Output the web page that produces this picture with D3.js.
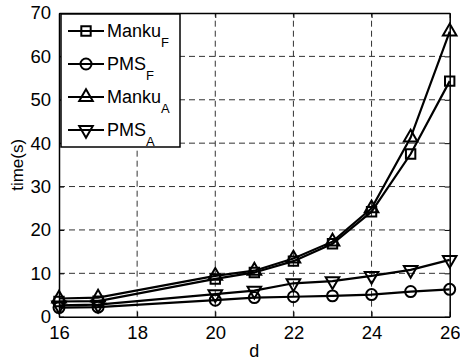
<!DOCTYPE html>
<html>
<head>
<meta charset="utf-8">
<script src="https://cdnjs.cloudflare.com/ajax/libs/d3/7.8.5/d3.min.js"></script>
<style>
  body { margin: 0; background: #fff; }
  text { font-family: "Liberation Sans", Arial, sans-serif; fill: #000; }
</style>
</head>
<body>
<script>
const width = 460, height = 364;
const margin = {top: 13, right: 10.3, bottom: 47.3, left: 59};

// data
const dValues = [16, 17, 20, 21, 22, 23, 24, 25, 26];
const mankuF = [3.5, 3.6, 8.7, 10.2, 12.8, 16.8, 24.2, 37.5, 54.3];
const pmsF   = [2.1, 2.2, 3.8, 4.4, 4.6, 4.8, 5.1, 5.8, 6.3];
const mankuA = [4.2, 4.4, 9.4, 10.6, 13.4, 17.3, 25.0, 41.3, 65.7];
const pmsA   = [2.6, 2.8, 5.2, 6.0, 7.7, 8.2, 9.4, 10.8, 13.1];

const xTicks = [16, 18, 20, 22, 24, 26];
const yTicks = [0, 10, 20, 30, 40, 50, 60, 70];

const series = [
  {name: "Manku", sub: "F", values: mankuF, marker: "square"},
  {name: "PMS", sub: "F", values: pmsF, marker: "circle"},
  {name: "Manku", sub: "A", values: mankuA, marker: "up"},
  {name: "PMS", sub: "A", values: pmsA, marker: "down"}
];

const svg = d3.select("body").append("svg")
  .attr("width", width)
  .attr("height", height);

const x = d3.scaleLinear().domain([16, 26]).range([margin.left, width - margin.right]);
const y = d3.scaleLinear().domain([0, 70]).range([height - margin.bottom, margin.top]);

// grid
const grid = svg.append("g")
  .attr("stroke", "#333")
  .attr("stroke-width", 1)
  .attr("stroke-dasharray", "6,4");
grid.selectAll(".gx")
  .data(xTicks.slice(1, -1))
  .enter().append("line")
    .attr("x1", d => x(d)).attr("x2", d => x(d))
    .attr("y1", y(0)).attr("y2", y(70));
grid.selectAll(".gy")
  .data(yTicks.slice(1, -1))
  .enter().append("line")
    .attr("x1", x(16)).attr("x2", x(26))
    .attr("y1", d => y(d)).attr("y2", d => y(d));

// axes, ticks inside
const xAxis = svg.append("g")
  .attr("transform", `translate(0,${y(0)})`)
  .call(d3.axisBottom(x).tickValues(xTicks).tickSizeInner(-5).tickSizeOuter(0).tickPadding(9));
const yAxis = svg.append("g")
  .attr("transform", `translate(${x(16)},0)`)
  .call(d3.axisLeft(y).tickValues(yTicks).tickSizeInner(-5).tickSizeOuter(0).tickPadding(9));
svg.append("g")
  .attr("transform", `translate(0,${y(70)})`)
  .call(d3.axisTop(x).tickValues(xTicks).tickSizeInner(-5).tickSizeOuter(0).tickFormat(""));
svg.append("g")
  .attr("transform", `translate(${x(26)},0)`)
  .call(d3.axisRight(y).tickValues(yTicks).tickSizeInner(-5).tickSizeOuter(0).tickFormat(""));

svg.selectAll(".domain").attr("stroke", "#000").attr("stroke-width", 1.5);
svg.selectAll(".tick line").attr("stroke", "#000").attr("stroke-width", 1);
svg.selectAll(".tick text")
  .attr("font-size", 18.5)
  .attr("font-family", "'Liberation Sans', Arial, sans-serif")
  .attr("fill", "#000");
yAxis.selectAll(".tick text").attr("dx", 1);

// axis labels
svg.append("text")
  .attr("x", x(21))
  .attr("y", 357)
  .attr("text-anchor", "middle")
  .attr("font-size", 18)
  .text("d");
svg.append("text")
  .attr("transform", `translate(23,${y(35)}) rotate(-90)`)
  .attr("text-anchor", "middle")
  .attr("font-size", 17)
  .text("time(s)");

// markers
const symbolFor = {
  square: d3.symbol().type(d3.symbolSquare).size(88),
  circle: d3.symbol().type(d3.symbolCircle).size(95),
  up: d3.symbol().type(d3.symbolTriangle).size(80),
  down: d3.symbol().type(d3.symbolTriangle).size(80)
};
function markerTransform(m, cx, cy) {
  return m === "down" ? `translate(${cx},${cy}) rotate(180)` : `translate(${cx},${cy})`;
}

const line = d3.line()
  .x((d, i) => x(dValues[i]))
  .y(d => y(d));

series.forEach(s => {
  svg.append("path")
    .attr("d", line(s.values))
    .attr("fill", "none")
    .attr("stroke", "#000")
    .attr("stroke-width", 2.2);
  svg.selectAll(null)
    .data(s.values)
    .enter().append("path")
      .attr("d", symbolFor[s.marker]())
      .attr("transform", (d, i) => markerTransform(s.marker, x(dValues[i]), y(d)))
      .attr("fill", "none")
      .attr("stroke", "#000")
      .attr("stroke-width", 2);
});

// legend
const legend = svg.append("g");
legend.append("rect")
  .attr("x", 61).attr("y", 14)
  .attr("width", 119).attr("height", 133)
  .attr("fill", "#fff")
  .attr("stroke", "#000")
  .attr("stroke-width", 1.5);

series.forEach((s, i) => {
  const ly = 31 + i * 33;
  legend.append("line")
    .attr("x1", 68).attr("x2", 104)
    .attr("y1", ly).attr("y2", ly)
    .attr("stroke", "#000").attr("stroke-width", 2.2);
  legend.append("path")
    .attr("d", symbolFor[s.marker]())
    .attr("transform", markerTransform(s.marker, 86, ly))
    .attr("fill", "none")
    .attr("stroke", "#000")
    .attr("stroke-width", 2);
  const t = legend.append("text")
    .attr("x", 107)
    .attr("y", ly + 6)
    .attr("font-size", 18);
  t.append("tspan").text(s.name);
  t.append("tspan")
    .attr("dy", 10)
    .attr("font-size", 13)
    .text(s.sub);
});
</script>
</body>
</html>
